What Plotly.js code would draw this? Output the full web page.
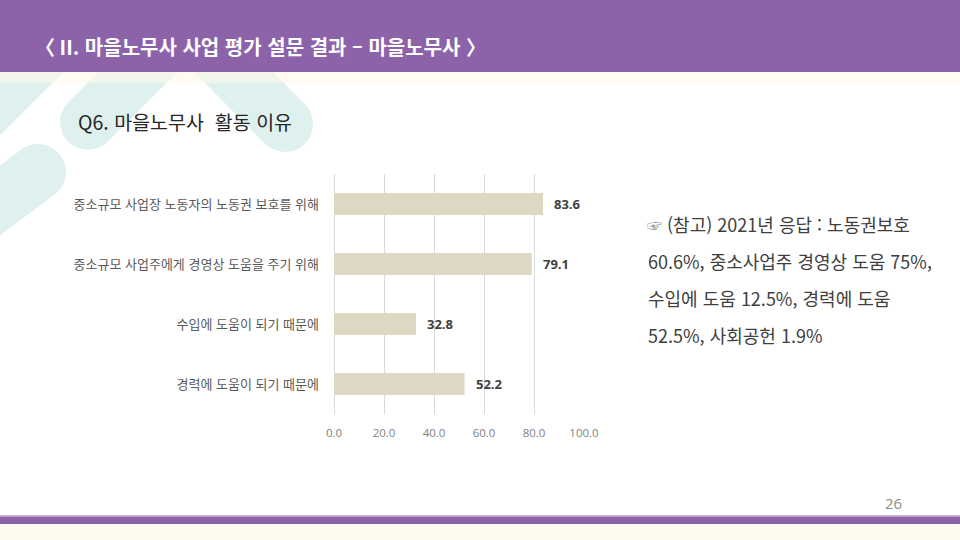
<!DOCTYPE html>
<html lang="ko">
<head>
<meta charset="utf-8">
<script src="https://cdn.plot.ly/plotly-3.0.1.min.js"></script>
<style>
    html, body { margin: 0; padding: 0; background: #ffffff; }
    #slide {
        position: relative; width: 960px; height: 540px; overflow: hidden;
        font-family: "Noto Sans CJK KR", "Noto Sans", sans-serif;
    }
    #deco, #chart { position: absolute; left: 0; top: 0; }
    .txt { position: absolute; white-space: pre; }
    #title { left: 35px; top: 32px; font-size: 20px; font-weight: 700; color: #ffffff; line-height: 30px; }
    #subtitle { left: 78px; top: 107px; font-size: 19.5px; color: #262626; line-height: 30px; }
    #hand { left: 647px; top: 212px; font-size: 15px; color: #8c8c8c; line-height: 26px; }
    .note { font-size: 18px; color: #404040; line-height: 37px; }
    #note1 { left: 667px; top: 206px; }
    #note2 { left: 648px; top: 243px; }
    #pagenum { left: 885px; top: 493px; font-size: 15px; color: #8c8c8c; font-family: "Open Sans", sans-serif; }
</style>
</head>
<body>
<div id="slide">
    <svg id="deco" width="960" height="540">
        <!-- teal background strokes -->
        <g stroke="#def1ee" stroke-width="56" stroke-linecap="round" stroke-linejoin="round" fill="none">
            <line x1="150" y1="-54" x2="-60" y2="156"/>
            <polyline points="88,122 186,24 285,124"/>
            <line x1="38" y1="172" x2="-120" y2="290"/>
        </g>
        <rect x="0" y="72" width="960" height="11" fill="#fff8e6" opacity="0.6"/>
        <rect x="0" y="0" width="960" height="72" fill="#8c62a9"/>
        <rect x="0" y="515" width="960" height="1.5" fill="#c9b5d6"/>
        <rect x="0" y="516.5" width="960" height="7.5" fill="#8c62a9"/>
        <rect x="0" y="524" width="960" height="16" fill="#fffaf0"/>
    </svg>
    <div id="chart"></div>
    <div class="txt" id="title">〈 II. 마을노무사 사업 평가 설문 결과 – 마을노무사 〉</div>
    <div class="txt" id="subtitle">Q6. 마을노무사  활동 이유</div>
    <div class="txt" id="hand">☞</div>
    <div class="txt note" id="note1">(참고) 2021년 응답 : 노동권보호</div>
    <div class="txt note" id="note2">60.6%, 중소사업주 경영상 도움 75%,
수입에 도움 12.5%, 경력에 도움
52.5%, 사회공헌 1.9%</div>
    <div class="txt" id="pagenum">26</div>
</div>

<script>
/* ── DATA ─────────────────────────────────────────────────*/
const reasons = [
    "중소규모 사업장 노동자의 노동권 보호를 위해",
    "중소규모 사업주에게 경영상 도움을 주기 위해",
    "수입에 도움이 되기 때문에",
    "경력에 도움이 되기 때문에"
];
const shares = [83.6, 79.1, 32.8, 52.2];
const xTicks = [0, 20, 40, 60, 80, 100];

/* ── CHART ────────────────────────────────────────────────*/
const barTrace = {
    type: "bar",
    orientation: "h",
    y: reasons,
    x: shares,
    marker: { color: "#ddd8c3" },
    hoverinfo: "skip"
};

// value labels sit a little right of each bar end
const valueLabels = shares.map((v, i) => ({
    x: v,
    y: reasons[i],
    xref: "x",
    yref: "y",
    text: v.toFixed(1),
    showarrow: false,
    xanchor: "left",
    yanchor: "middle",
    xshift: 9,
    font: { family: "Open Sans, sans-serif", size: 13, color: "#404040", weight: 700 }
}));

const layout = {
    width: 960,
    height: 540,
    autosize: false,
    paper_bgcolor: "rgba(0,0,0,0)",
    plot_bgcolor: "rgba(0,0,0,0)",
    margin: { l: 334, r: 376, t: 174, b: 126, pad: 0 },
    showlegend: false,
    bargap: 0.63,
    annotations: valueLabels,
    xaxis: {
        range: [0, 100],
        tickmode: "array",
        tickvals: xTicks,
        ticktext: xTicks.map(v => v.toFixed(1)),
        tickfont: { family: "Open Sans, sans-serif", size: 11.5, color: "#7f7f7f" },
        ticklabelstandoff: 10,
        showgrid: true,
        gridcolor: "#d9d9d9",
        gridwidth: 1,
        zeroline: true,
        zerolinecolor: "#d9d9d9",
        zerolinewidth: 1,
        showline: false,
        fixedrange: true
    },
    yaxis: {
        type: "category",
        categoryorder: "array",
        categoryarray: reasons,
        autorange: "reversed",
        tickfont: { family: "Noto Sans CJK KR, sans-serif", size: 13, color: "#595959" },
        ticklabelstandoff: 14,
        showgrid: false,
        zeroline: false,
        showline: false,
        fixedrange: true
    }
};

Plotly.newPlot("chart", [barTrace], layout, { displayModeBar: false, staticPlot: true });
</script>
</body>
</html>
